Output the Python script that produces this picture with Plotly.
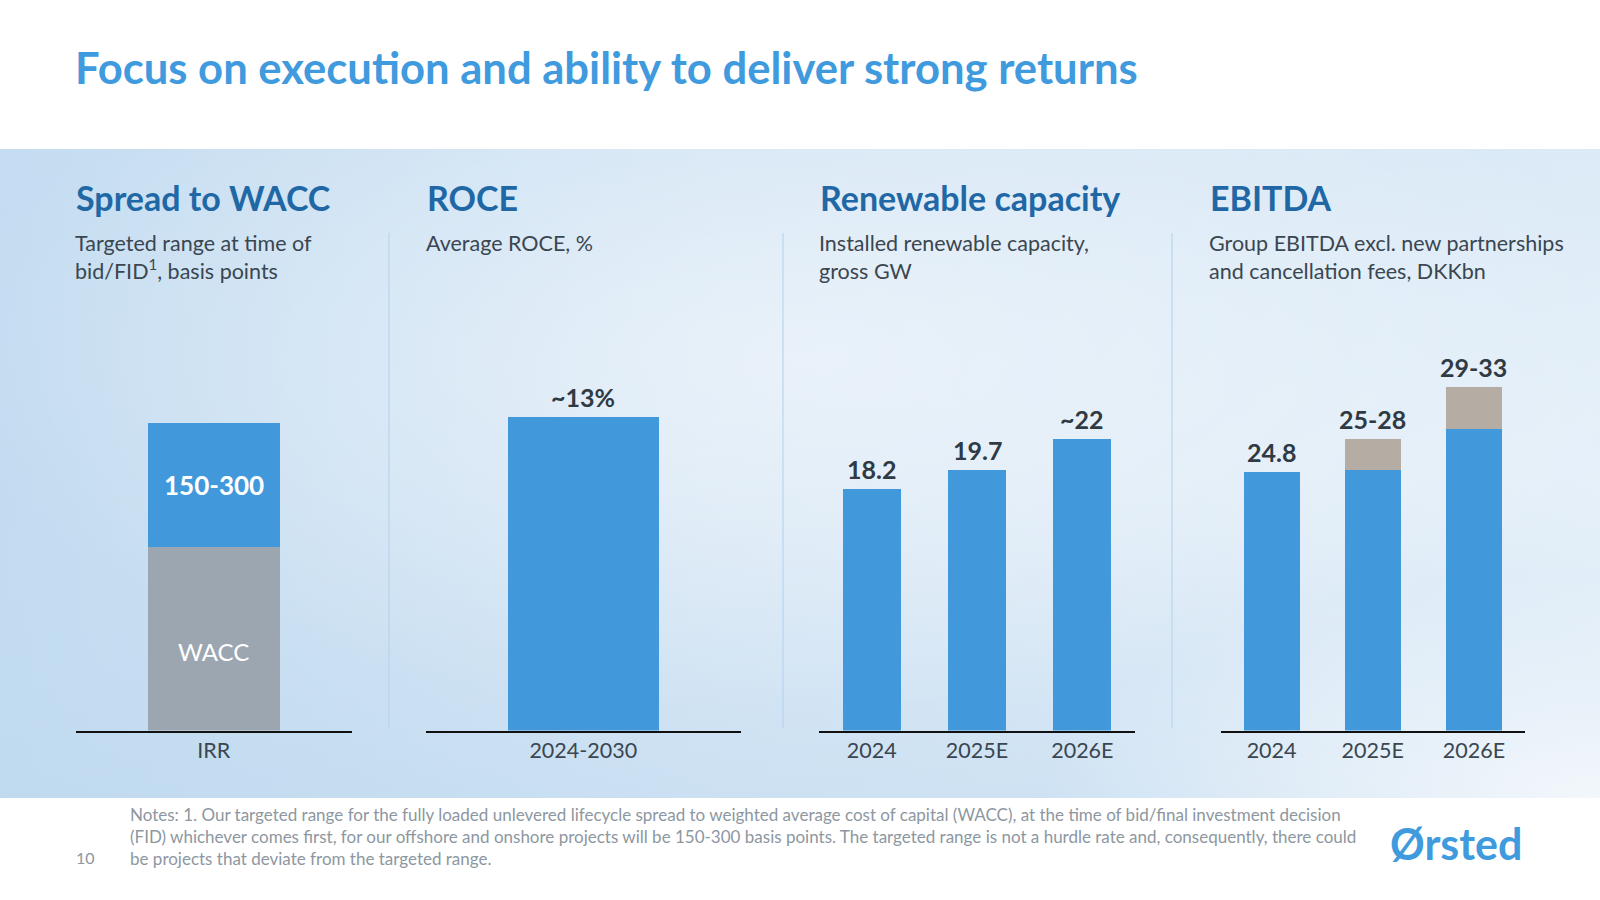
import base64
import plotly.graph_objects as go

# ---------------- data ----------------
spread_cats = ["IRR"]
wacc_vals = [1.49]          # illustrative height of WACC block
spread_vals = [1.0]         # illustrative height of the 150-300 bp spread block
spread_label = "150-300"
wacc_label = "WACC"

roce_cats = ["2024-2030"]
roce_vals = [13]
roce_labels = ["~13%"]

cap_cats = ["2024", "2025E", "2026E"]
cap_vals = [18.2, 19.7, 22]
cap_labels = ["18.2", "19.7", "~22"]

ebitda_cats = ["2024", "2025E", "2026E"]
ebitda_low = [24.8, 25, 29]
ebitda_range = [0, 3, 4]
ebitda_labels = ["24.8", "25-28", "29-33"]

title_text = "Focus on execution and ability to deliver strong returns"
headers = ["Spread to WACC", "ROCE", "Renewable capacity", "EBITDA"]
subtitles = [
    ["Targeted range at time of", "bid/FID<sup>1</sup>, basis points"],
    ["Average ROCE, %"],
    ["Installed renewable capacity,", "gross GW"],
    ["Group EBITDA excl. new partnerships", "and cancellation fees, DKKbn"],
]
notes_lines = [
    "Notes: 1. Our targeted range for the fully loaded unlevered lifecycle spread to weighted average cost of capital (WACC), at the time of bid/final investment decision",
    "(FID) whichever comes first, for our offshore and onshore projects will be 150-300 basis points. The targeted range is not a hurdle rate and, consequently, there could",
    "be projects that deviate from the targeted range.",
]
page_no = "10"
logo_text = "Ørsted"

# ---------------- style ----------------
W, H = 1600, 900
FONT = "Lato"
BLUE = "#4199db"
GREY = "#9ba6b0"
TAUPE = "#b5aca3"
HEAD = "#1f68a5"
TXT = "#3a4650"
VAL = "#2f3a44"


def px(x):
    return x / W


def py(y):
    return 1 - y / H


BASE = 730.6
TOP = 300.0
ydom = [py(BASE), py(TOP)]
plot_h = BASE - TOP

panels = [
    dict(dom=(75.5, 352), n=1, rmax=plot_h / 123.5),
    dict(dom=(425.5, 741), n=1, rmax=plot_h / 24.1),
    dict(dom=(819, 1135), n=3, rmax=plot_h / 13.25),
    dict(dom=(1221, 1524.5), n=3, rmax=plot_h / 10.415),
]

fig = go.Figure()

# panel 1
fig.add_bar(x=spread_cats, y=wacc_vals, width=0.477, marker=dict(color=GREY, line_width=0),
            xaxis="x", yaxis="y", hoverinfo="skip")
fig.add_bar(x=spread_cats, y=spread_vals, width=0.477, marker=dict(color=BLUE, line_width=0),
            xaxis="x", yaxis="y", hoverinfo="skip")
# panel 2
fig.add_bar(x=roce_cats, y=roce_vals, width=0.479, marker=dict(color=BLUE, line_width=0),
            xaxis="x2", yaxis="y2", hoverinfo="skip")
# panel 3
fig.add_bar(x=cap_cats, y=cap_vals, width=0.55, marker=dict(color=BLUE, line_width=0),
            xaxis="x3", yaxis="y3", hoverinfo="skip")
# panel 4
fig.add_bar(x=ebitda_cats, y=ebitda_low, width=0.553, marker=dict(color=BLUE, line_width=0),
            xaxis="x4", yaxis="y4", hoverinfo="skip")
fig.add_bar(x=ebitda_cats, y=ebitda_range, width=0.553, marker=dict(color=TAUPE, line_width=0),
            xaxis="x4", yaxis="y4", hoverinfo="skip")

layout_axes = {}
for i, p in enumerate(panels):
    s = "" if i == 0 else str(i + 1)
    layout_axes["xaxis" + s] = dict(
        type="category",
        domain=[px(p["dom"][0]), px(p["dom"][1])],
        anchor="y" + s,
        range=[-0.5, p["n"] - 0.5],
        showline=True, linecolor="#111111", linewidth=2,
        showgrid=False, zeroline=False, ticks="",
        tickfont=dict(family=FONT, size=21.5, color=TXT),
        fixedrange=True,
    )
    layout_axes["yaxis" + s] = dict(
        domain=ydom, anchor="x" + s, range=[0, p["rmax"]],
        visible=False, fixedrange=True,
    )

ann = []
# title
ann.append(dict(text="<b>" + title_text + "</b>", x=px(73), y=py(67), xref="paper", yref="paper",
                xanchor="left", yanchor="middle", showarrow=False,
                font=dict(family=FONT, size=43.6, color="#3f9ade")))
head_x = [74.5, 425.5, 819, 1209]
for hx, h, sub in zip(head_x, headers, subtitles):
    ann.append(dict(text="<b>" + h + "</b>", x=px(hx - 1), y=py(197), xref="paper", yref="paper",
                    xanchor="left", yanchor="middle", showarrow=False,
                    font=dict(family=FONT, size=34, color=HEAD)))
    ann.append(dict(text="<br>".join(sub), x=px(hx - 1), y=py(229), xref="paper", yref="paper",
                    xanchor="left", yanchor="top", showarrow=False, align="left", borderpad=0,
                    font=dict(family=FONT, size=21.5, color=TXT)))

# inner labels panel 1
ann.append(dict(text="<b>" + spread_label + "</b>", x=0,
                y=wacc_vals[0] + spread_vals[0] / 2, xref="x", yref="y",
                showarrow=False, yanchor="middle",
                font=dict(family=FONT, size=26, color="white")))
ann.append(dict(text=wacc_label, x=0, y=wacc_vals[0] * 0.43, xref="x", yref="y",
                showarrow=False, yanchor="middle",
                font=dict(family=FONT, size=24, color="white")))


# value labels
def vlabel(xr, yr, x, y, t):
    return dict(text="<b>" + t + "</b>", x=x, y=y, xref=xr, yref=yr, showarrow=False,
                yanchor="bottom", yshift=3, font=dict(family=FONT, size=25, color=VAL))


for i, (v, t) in enumerate(zip(roce_vals, roce_labels)):
    ann.append(vlabel("x2", "y2", i, v, t))
for i, (v, t) in enumerate(zip(cap_vals, cap_labels)):
    ann.append(vlabel("x3", "y3", i, v, t))
for i, (a, b, t) in enumerate(zip(ebitda_low, ebitda_range, ebitda_labels)):
    ann.append(vlabel("x4", "y4", i, a + b, t))

# notes
ann.append(dict(text="<br>".join(notes_lines), x=px(129), y=py(836), xref="paper", yref="paper",
                xanchor="left", yanchor="middle", showarrow=False, align="left", borderpad=0,
                font=dict(family=FONT, size=17, color="#8d97a1")))
ann.append(dict(text=page_no, x=px(74), y=py(857), xref="paper", yref="paper",
                xanchor="left", yanchor="middle", showarrow=False,
                font=dict(family=FONT, size=16, color="#8d97a1")))
ann.append(dict(text="<b>" + logo_text + "</b>", x=px(1524), y=py(843), xref="paper", yref="paper",
                xanchor="right", yanchor="middle", showarrow=False,
                font=dict(family=FONT, size=43, color="#3f9ade")))

# separators
shapes = []
for sx in [389, 783, 1172]:
    shapes.append(dict(type="line", xref="paper", yref="paper", x0=px(sx), x1=px(sx),
                       y0=py(233), y1=py(728), line=dict(color="#b2d1ec", width=1)))

# background gradient band
svg = (
    '<svg xmlns="http://www.w3.org/2000/svg" width="1600" height="650" viewBox="0 0 1600 650" '
    'preserveAspectRatio="none">'
    '<defs>'
    '<linearGradient id="g" x1="0" y1="0" x2="1" y2="0">'
    '<stop offset="0" stop-color="#c2dbf0"/>'
    '<stop offset="0.45" stop-color="#d8e7f5"/>'
    '<stop offset="1" stop-color="#e6f0f9"/>'
    '</linearGradient>'
    '<radialGradient id="r" cx="0.5" cy="0.32" r="0.55">'
    '<stop offset="0" stop-color="#ffffff" stop-opacity="0.45"/>'
    '<stop offset="1" stop-color="#ffffff" stop-opacity="0"/>'
    '</radialGradient>'
    '<radialGradient id="c" cx="1" cy="1" r="0.35">'
    '<stop offset="0" stop-color="#f6f9fc" stop-opacity="0.9"/>'
    '<stop offset="1" stop-color="#f6f9fc" stop-opacity="0"/>'
    '</radialGradient>'
    '<linearGradient id="v" x1="0" y1="0" x2="0" y2="1">'
    '<stop offset="0" stop-color="#c9e0f3" stop-opacity="0.35"/>'
    '<stop offset="0.5" stop-color="#c9e0f3" stop-opacity="0"/>'
    '<stop offset="1" stop-color="#bcd8ef" stop-opacity="0.45"/>'
    '</linearGradient>'
    '</defs>'
    '<rect width="1600" height="650" fill="url(#g)"/>'
    '<rect width="1600" height="650" fill="url(#v)"/>'
    '<rect width="1600" height="650" fill="url(#r)"/>'
    '<rect width="1600" height="650" fill="url(#c)"/>'
    '</svg>'
)
src = "data:image/svg+xml;base64," + base64.b64encode(svg.encode()).decode()
images = [dict(source=src, xref="paper", yref="paper", x=0, y=py(149), sizex=1,
               sizey=(798 - 149) / H, xanchor="left", yanchor="top", sizing="stretch",
               layer="below")]

fig.update_layout(
    width=W, height=H, margin=dict(l=0, r=0, t=0, b=0),
    paper_bgcolor="white", plot_bgcolor="rgba(0,0,0,0)",
    barmode="stack", bargap=0, showlegend=False,
    font=dict(family=FONT),
    annotations=ann, shapes=shapes, images=images,
    **layout_axes,
)

fig.write_html("out.html", config={"displayModeBar": False},
               post_script="document.body.style.margin='0';document.body.style.overflow='hidden';")
